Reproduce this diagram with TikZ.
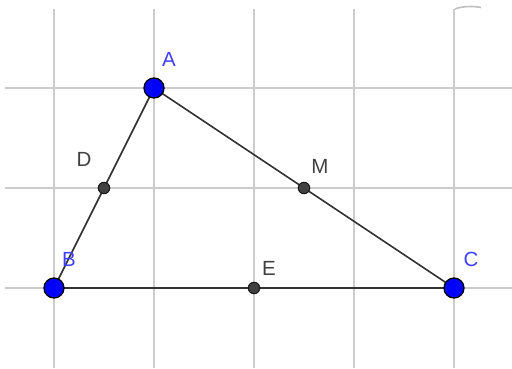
\documentclass[tikz,border=0pt]{standalone}
\usepackage{fontspec}
\setmainfont{Liberation Sans}
\begin{document}
\begin{tikzpicture}[x=1pt,y=-1pt,
  gridline/.style={draw=black!20,line width=1.6pt},
  seg/.style={draw=black!80,line width=1.6pt},
  bigpt/.style={circle,fill=blue,draw=black,line width=1.3pt,minimum size=20pt,inner sep=0pt},
  smallpt/.style={circle,fill=black!75,draw=black!90,line width=1pt,minimum size=11.5pt,inner sep=0pt},
  bluelab/.style={text=blue!75!white,font=\fontsize{20.5}{20.5}\selectfont,inner sep=0pt},
  graylab/.style={text=black!75,font=\fontsize{20.5}{20.5}\selectfont,inner sep=0pt}]
\useasboundingbox (0,0) rectangle (512,368);
% grid
\foreach \y in {88,188,288} \draw[gridline] (5,\y) -- (512,\y);
\foreach \x in {54,154,254,354,454} \draw[gridline] (\x,9) -- (\x,368);
\draw[draw=black!25,line width=1.6pt] (455,9) .. controls (462,6) and (474,6) .. (481,7.5);
% points
\coordinate (A) at (154,88);
\coordinate (B) at (54,288);
\coordinate (C) at (454,288);
\coordinate (D) at (104,188);
\coordinate (M) at (304,188);
\coordinate (E) at (254,288);
% segments
\draw[seg] (A) -- (B);
\draw[seg] (A) -- (C);
\draw[seg] (B) -- (C);
% point markers
\node[smallpt] (pD) at (D) {};
\node[smallpt] (pM) at (M) {};
\node[smallpt] (pE) at (E) {};
\node[bigpt] (pA) at (A) {};
\node[bigpt] (pB) at (B) {};
\node[bigpt] (pC) at (C) {};
% labels
\node[bluelab] (lA) at (169,59) {A};
\node[bluelab] (lB) at (69,259) {B};
\node[bluelab] (lC) at (471,259) {C};
\node[graylab] (lD) at (84,159) {D};
\node[graylab] (lM) at (320,166) {M};
\node[graylab] (lE) at (269,268) {E};
\end{tikzpicture}
\end{document}
